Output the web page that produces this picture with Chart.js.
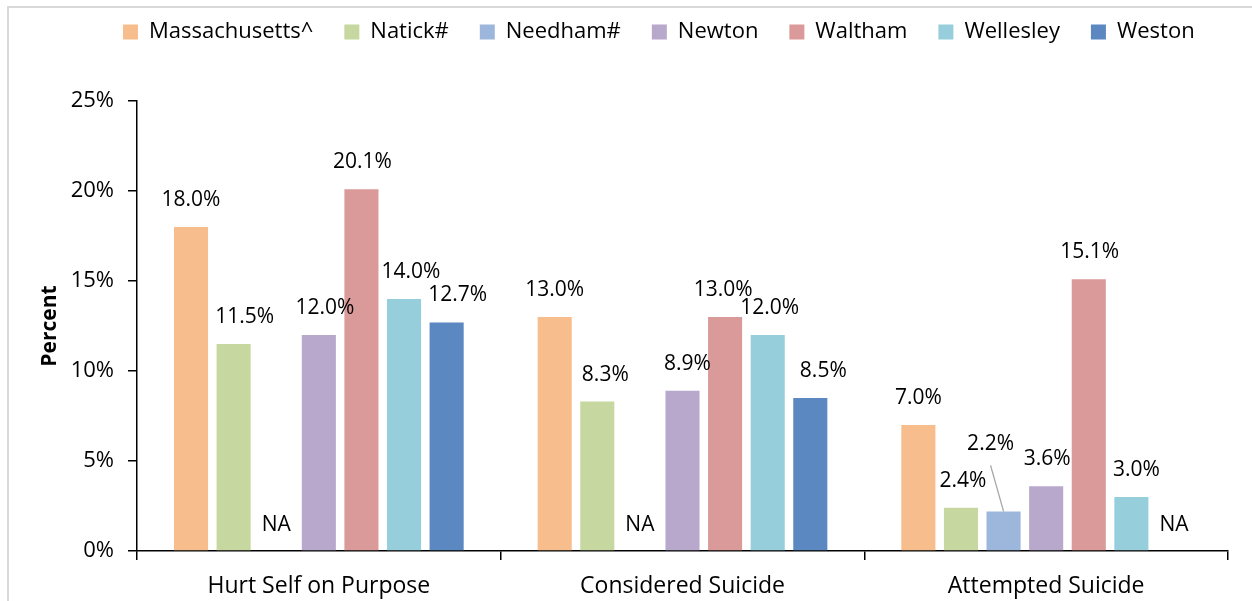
<!DOCTYPE html>
<html>
<head>
<meta charset="utf-8">
<script src="https://cdn.jsdelivr.net/npm/chart.js@4.4.1/dist/chart.umd.min.js"></script>
<style>
  html, body { margin: 0; padding: 0; background: #fff; }
  #wrap { width: 1252px; height: 601px; position: relative; }
</style>
</head>
<body>
<div id="wrap"><canvas id="c" width="1252" height="601"></canvas></div>
<script>
// Survey measures (percent of students)
const categories = ['Hurt Self on Purpose', 'Considered Suicide', 'Attempted Suicide'];
const seriesNames = ['Massachusetts^', 'Natick#', 'Needham#', 'Newton', 'Waltham', 'Wellesley', 'Weston'];
const massachusetts = [18.0, 13.0, 7.0];
const natick        = [11.5, 8.3, 2.4];
const needham       = [null, null, 2.2];
const newton        = [12.0, 8.9, 3.6];
const waltham       = [20.1, 13.0, 15.1];
const wellesley     = [14.0, 12.0, 3.0];
const weston        = [12.7, 8.5, null];
const yTicks = [0, 5, 10, 15, 20, 25];

const seriesValues = [massachusetts, natick, needham, newton, waltham, wellesley, weston];
const colors = ['#F7BD8D', '#C6D89F', '#9CB7DB', '#B8A8CB', '#D99A99', '#97CEDC', '#5B88C1'];

const FONT = '"Open Sans", Lato, sans-serif';

// Horizontal nudges for value labels (px), per series and category
const labelDx = [
  [0, 0, 0],
  [11, 8, 2],
  [0, 0, -13],
  [6, 5, 1],
  [1, -2, 1],
  [7, 2, 5],
  [11, 13, 0]
];
// Labels lifted further with a leader line: [series, category, extra lift]
const leaderLabels = [[2, 2, 40]];

// Legend placement: left edge of first swatch and vertical centre of the row
const LEGEND_START_X = 123;
const LEGEND_CENTER_Y = 32;
const LEGEND_ITEM_GAP = 31;

const frame = {
  id: 'frame',
  beforeDraw(chart) {
    const ctx = chart.ctx;
    ctx.save();
    ctx.fillStyle = '#fff';
    ctx.fillRect(0, 0, chart.width, chart.height);
    ctx.strokeStyle = '#d9d9d9';
    ctx.lineWidth = 2;
    ctx.strokeRect(8, 7, chart.width + 20, chart.height + 20);
    ctx.restore();
  }
};

// Moves the legend row to its own spot above the plot
const legendPlacement = {
  id: 'legendPlacement',
  afterLayout(chart) {
    const lg = chart.legend;
    if (!lg) return;
    const lineW = (lg.lineWidths && lg.lineWidths[0]) || 1070;
    const curStart = (lg.left + LEGEND_ITEM_GAP + lg.right - lineW) / 2;
    const dx = LEGEND_START_X - curStart;
    lg.left += dx;
    lg.right += dx;
    const itemH = lg._itemHeight || 22;
    const h = lg.bottom - lg.top;
    lg.top = LEGEND_CENTER_Y - LEGEND_ITEM_GAP - itemH / 2;
    lg.bottom = lg.top + h;
  }
};

const valueLabels = {
  id: 'valueLabels',
  afterDatasetsDraw(chart) {
    const ctx = chart.ctx;
    const yScale = chart.scales.y;
    const base = yScale.getPixelForValue(0);
    ctx.save();
    ctx.font = '21px ' + FONT;
    ctx.fillStyle = '#000';
    ctx.textAlign = 'center';
    ctx.textBaseline = 'middle';
    chart.data.datasets.forEach((ds, di) => {
      const meta = chart.getDatasetMeta(di);
      meta.data.forEach((bar, i) => {
        const v = ds.data[i];
        const x = bar.x;
        if (v === null || v === undefined) {
          ctx.fillText('NA', x, base - 26);
          return;
        }
        const top = yScale.getPixelForValue(v);
        const lead = leaderLabels.find(l => l[0] === di && l[1] === i);
        const lx = x + labelDx[di][i];
        const ly = top - 27 - (lead ? lead[2] : 0);
        if (lead) {
          ctx.save();
          ctx.strokeStyle = '#a6a6a6';
          ctx.lineWidth = 1.3;
          ctx.beginPath();
          ctx.moveTo(lx, ly + 21);
          ctx.lineTo(x, top);
          ctx.stroke();
          ctx.restore();
        }
        ctx.fillText(v.toFixed(1) + '%', lx, ly);
      });
    });
    ctx.restore();
  }
};

new Chart(document.getElementById('c'), {
  type: 'bar',
  data: {
    labels: categories,
    datasets: seriesNames.map((name, i) => ({
      label: name,
      data: seriesValues[i],
      backgroundColor: colors[i],
      borderWidth: 0,
      categoryPercentage: 0.82,
      barPercentage: 0.8
    }))
  },
  options: {
    responsive: false,
    animation: false,
    layout: { padding: { top: 38, right: 24, bottom: 0, left: 0 } },
    plugins: {
      legend: {
        position: 'top',
        labels: {
          font: { family: FONT, size: 22 },
          color: '#000',
          boxWidth: 15,
          boxHeight: 15,
          padding: LEGEND_ITEM_GAP
        }
      },
      tooltip: { enabled: false }
    },
    scales: {
      x: {
        offset: true,
        grid: {
          offset: true,
          drawOnChartArea: false,
          color: '#000',
          lineWidth: 1.5,
          tickLength: 9
        },
        border: { color: '#000', width: 1.5 },
        ticks: {
          font: { family: FONT, size: 23 },
          color: '#000',
          padding: 13,
          maxRotation: 0
        },
        afterFit(scale) { scale.height = 50; }
      },
      y: {
        min: 0,
        max: 25,
        afterBuildTicks(scale) { scale.ticks = yTicks.map(v => ({ value: v })); },
        grid: {
          drawOnChartArea: false,
          color: '#000',
          lineWidth: 1.5,
          tickLength: 9
        },
        border: { color: '#000', width: 1.5 },
        ticks: {
          font: { family: FONT, size: 22 },
          color: '#000',
          padding: 14,
          callback: v => v + '%'
        },
        title: {
          display: true,
          text: 'Percent',
          font: { family: FONT, size: 21, weight: 'bold' },
          color: '#000',
          padding: { top: 37, bottom: 0 }
        },
        afterFit(scale) { scale.width = 137; }
      }
    }
  },
  plugins: [frame, legendPlacement, valueLabels]
});
</script>
</body>
</html>
